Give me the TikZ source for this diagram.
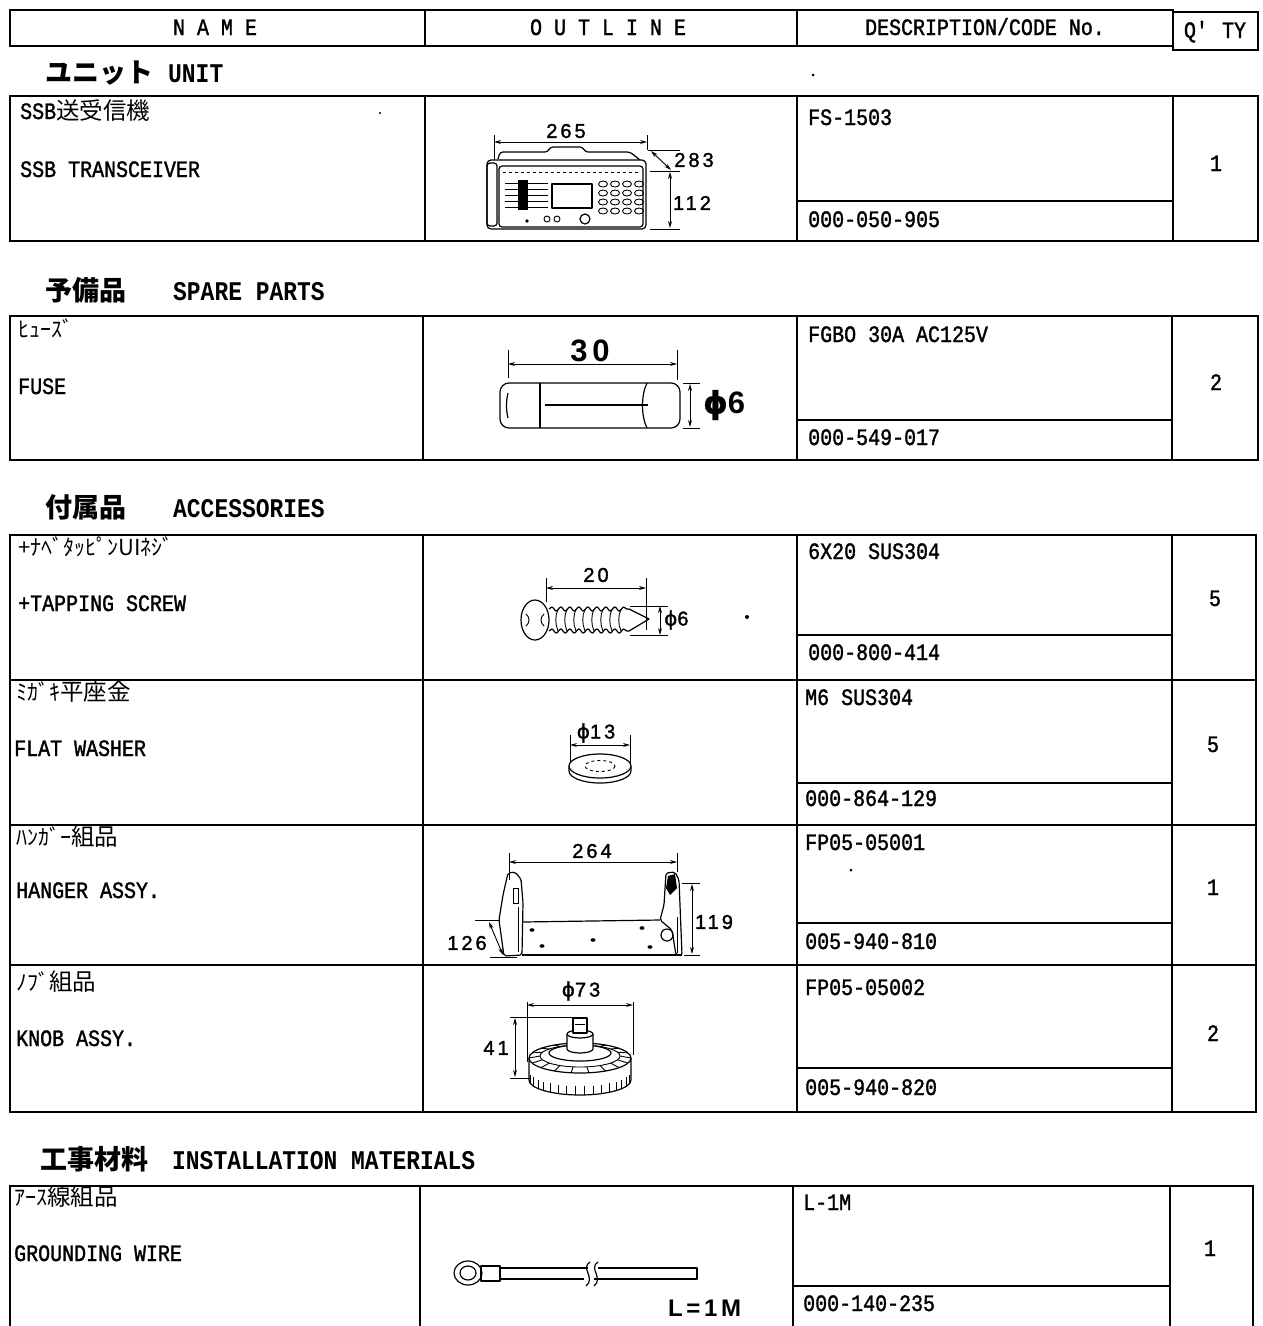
\documentclass[tikz,border=0pt]{standalone}
\usepackage{fontspec}
\usetikzlibrary{arrows.meta,decorations.pathmorphing}
\setmainfont{Liberation Mono}[FakeStretch=0.85, UprightFeatures={FakeBold=1.4}]
\newfontfamily\jp{Noto Sans CJK JP}
\newfontfamily\djv{DejaVu Sans}[FakeBold=1.2]
\newfontfamily\dimf{Liberation Sans}[LetterSpace=15, UprightFeatures={FakeBold=1.5}]
\newcommand\rowfnt{\fontsize{23.5}{26}\selectfont}
\newcommand\kanafnt{\jp\fontsize{22}{26}\selectfont}
\newcommand\titfnt{\fontsize{27}{30}\selectfont\bfseries}
\newcommand\dimfnt{\dimf\fontsize{20}{24}\selectfont}
\newcommand\bigdimfnt{\dimf\fontsize{31}{34}\selectfont\bfseries}
\begin{document}
\begin{tikzpicture}[x=1pt,y=-1pt,
  tbl/.style={line width=1.4pt},
  lbl/.style={anchor=base west, inner sep=0pt, font=\rowfnt},
  qty/.style={anchor=base, inner sep=0pt, font=\rowfnt},
  hdr/.style={anchor=base, inner sep=0pt, font=\rowfnt},
  sect/.style={anchor=base west, inner sep=0pt, font=\titfnt},
  part/.style={line width=1.2pt, line join=round},
  ext/.style={line width=0.9pt},
  speck/.style={fill=black},
  dimarr/.style={line width=0.9pt, {Stealth[length=7pt,width=4pt]}-{Stealth[length=7pt,width=4pt]}},
  dimt/.style={inner sep=0pt, font=\dimfnt},
  bigdimt/.style={inner sep=0pt, font=\bigdimfnt}]
\useasboundingbox (0,0) rectangle (1263,1326);
\fill[white] (0,0) rectangle (1263,1326);

% ---------------- header ----------------
\draw[tbl] (10,10) rectangle (1173,46);
\draw[tbl] (425,10) -- (425,46);
\draw[tbl] (797,10) -- (797,46);
\draw[tbl] (1173,12) rectangle (1258,50);
\node[hdr] (hname) at (215,35) {N A M E};
\node[hdr] (hout) at (608,35) {O U T L I N E};
\node[hdr] (hdesc) at (985,35) {DESCRIPTION/CODE No.};
\node[hdr] (hqty) at (1215,38) {Q\textquotesingle\ TY};

% ---------------- section titles ----------------
\node[sect] (s1j) at (45,82) {\jp\bfseries ユニット};
\node[sect] (s1e) at (168,82) {UNIT};
\node[sect] (s2j) at (45,300) {\jp\bfseries 予備品};
\node[sect] (s2e) at (173,300) {SPARE PARTS};
\node[sect] (s3j) at (45,517) {\jp\bfseries 付属品};
\node[sect] (s3e) at (173,517) {ACCESSORIES};
\node[sect] (s4j) at (40,1169) {\jp\bfseries 工事材料};
\node[sect] (s4e) at (172,1169) {INSTALLATION MATERIALS};
\fill[speck] (813,75) circle (1.5);

% ---------------- unit row ----------------
\draw[tbl] (10,96) rectangle (1258,241);
\draw[tbl] (425,96) -- (425,241);
\draw[tbl] (797,96) -- (797,241);
\draw[tbl] (1173,96) -- (1173,241);
\draw[tbl] (797,201) -- (1173,201);
\node[lbl] (n1a) at (20,119) {SSB{\jp 送受信機}};
\node[lbl] (n1b) at (20,177) {SSB TRANSCEIVER};
\node[lbl] (d1a) at (808,125) {FS-1503};
\node[lbl] (d1b) at (808,227) {000-050-905};
\node[qty] (q1) at (1216,171) {1};
\fill[speck] (380,113) circle (1.2);

% transceiver drawing
\draw[ext] (494,135) -- (494,160);
\draw[ext] (647,135) -- (647,150);
\draw[dimarr] (494,142) -- (647,142);
\node[dimt] (t265) at (566,131) {265};
\draw[part,rounded corners=4] (487,160) rectangle (646,229);
\draw[part,rounded corners=3] (498,159) -- (500,152) -- (548,152) -- (550,147) -- (583,147) -- (585,152) -- (630,152) -- (640,160);
\draw[part,rounded corners=3] (487,163) rectangle (497,226);
\draw[part,rounded corners=3] (499,166) rectangle (643,227);
\draw[ext,dashed] (503,172) -- (640,172);
\draw[part] (552,184) rectangle (592,208);
\foreach \yy in {183,189,195,201,207} \draw[ext] (505,\yy) -- (548,\yy);
\fill (518,180) rectangle (528,210);
\foreach \xx in {603,615,627,639} \foreach \yy in {184,193,202,211} \draw[ext] (\xx,\yy) ellipse (4.5 and 3);
\fill (527,221) circle (1.8);
\draw[ext] (547,219) circle (3);
\draw[ext] (557,219) circle (3);
\draw[part] (585,219) circle (5);
\draw[ext] (648,150) -- (680,150);
\draw[ext] (650,171) -- (680,171);
\draw[dimarr] (651,151) -- (671,170);
\node[dimt] (t283) at (694,160) {283};
\draw[dimarr] (670,172) -- (670,228);
\draw[ext] (650,229) -- (680,229);
\node[dimt] (t112) at (692,203) {112};

% ---------------- fuse row ----------------
\draw[tbl] (10,316) rectangle (1258,460);
\draw[tbl] (423,316) -- (423,460);
\draw[tbl] (797,316) -- (797,460);
\draw[tbl] (1172,316) -- (1172,460);
\draw[tbl] (797,420) -- (1172,420);
\node[lbl] (n2a) at (18,337) {\kanafnt ﾋｭｰｽﾞ};
\node[lbl] (n2b) at (18,394) {FUSE};
\node[lbl] (d2a) at (808,342) {FGBO 30A AC125V};
\node[lbl] (d2b) at (808,445) {000-549-017};
\node[qty] (q2) at (1216,390) {2};

\draw[ext] (508,350) -- (508,378);
\draw[ext] (677,350) -- (677,380);
\draw[dimarr] (508,364) -- (677,364);
\node[bigdimt] (t30) at (590,351) {30};
\draw[part,rounded corners=9] (500,383) rectangle (680,428);
\draw[part] (540,383) -- (540,428);
\draw[part] (647,383) .. controls (641,395) and (641,416) .. (647,428);
\draw[part] (545,405) -- (648,405);
\draw[part] (508,393) .. controls (506,401) and (506,410) .. (508,418);
\draw[ext] (683,383) -- (700,383);
\draw[ext] (683,428) -- (700,428);
\draw[dimarr] (690,384) -- (690,427);
\node[bigdimt, anchor=west] (tf6) at (703,405) {{\djv ϕ}6};

% ---------------- accessories ----------------
\draw[tbl] (10,535) rectangle (1256,1112);
\draw[tbl] (423,535) -- (423,1112);
\draw[tbl] (797,535) -- (797,1112);
\draw[tbl] (1172,535) -- (1172,1112);
\foreach \yy in {680,825,965} \draw[tbl] (10,\yy) -- (1256,\yy);
\foreach \yy in {635,783,923,1068} \draw[tbl] (797,\yy) -- (1172,\yy);

\node[lbl] (n3a) at (18,555) {\kanafnt +ﾅﾍﾞﾀｯﾋﾟﾝUIﾈｼﾞ};
\node[lbl] (n3b) at (18,611) {+TAPPING SCREW};
\node[lbl] (d3a) at (808,559) {6X20 SUS304};
\node[lbl] (d3b) at (808,660) {000-800-414};
\node[qty] (q3) at (1215,606) {5};

\node[lbl] (n4a) at (16,700) {{\kanafnt ﾐｶﾞｷ}{\jp 平座金}};
\node[lbl] (n4b) at (14,756) {FLAT WASHER};
\node[lbl] (d4a) at (805,705) {M6 SUS304};
\node[lbl] (d4b) at (805,806) {000-864-129};
\node[qty] (q4) at (1213,752) {5};

\node[lbl] (n5a) at (16,845) {{\kanafnt ﾊﾝｶﾞｰ}{\jp 組品}};
\node[lbl] (n5b) at (16,898) {HANGER ASSY.};
\node[lbl] (d5a) at (805,850) {FP05-05001};
\node[lbl] (d5b) at (805,949) {005-940-810};
\node[qty] (q5) at (1213,895) {1};
\fill[speck] (851,870) circle (1.5);

\node[lbl] (n6a) at (16,990) {{\kanafnt ﾉﾌﾞ}{\jp 組品}};
\node[lbl] (n6b) at (16,1046) {KNOB ASSY.};
\node[lbl] (d6a) at (805,995) {FP05-05002};
\node[lbl] (d6b) at (805,1095) {005-940-820};
\node[qty] (q6) at (1213,1041) {2};

% screw
\draw[ext] (546,578) -- (546,602);
\draw[ext] (646,578) -- (646,630);
\draw[dimarr] (546,588) -- (646,588);
\node[dimt] (t20) at (596,575) {20};
\draw[part, decorate, decoration={snake, amplitude=2pt, segment length=9pt}] (549,609) -- (629,609);
\draw[part, decorate, decoration={snake, amplitude=2pt, segment length=9pt}] (549,631) -- (629,631);
\foreach \xx in {558,567,...,626} \draw[ext] (\xx,609) .. controls (\xx-3,616) and (\xx-3,624) .. (\xx,631);
\draw[part] (629,609) -- (649,619) -- (629,631);
\draw[part, fill=white] (535,620) ellipse (14 and 20);
\draw[ext] (526,614) .. controls (530,617) and (530,623) .. (526,626);
\draw[ext] (544,614) .. controls (540,617) and (540,623) .. (544,626);
\draw[ext] (630,606) -- (668,606);
\draw[ext] (630,635) -- (668,635);
\draw[dimarr] (660,606) -- (660,635);
\node[dimt, anchor=west] (ts6) at (664,620) {{\djv ϕ}6};
\fill[speck] (747,617) circle (2);

% washer
\draw[ext] (570,735) -- (570,768);
\draw[ext] (630,735) -- (630,768);
\draw[dimarr] (570,745) -- (630,745);
\node[dimt] (t13) at (596,733) {{\djv ϕ}13};
\draw[part] (569,766) -- (569,771) arc (180:0:31 and 12) -- (631,766);
\draw[part, fill=white] (600,766) ellipse (31 and 12);
\draw[ext, dashed] (600,766) ellipse (15 and 5.5);

% hanger
\draw[ext] (509,853) -- (509,880);
\draw[ext] (677,853) -- (677,872);
\draw[dimarr] (509,862) -- (677,862);
\node[dimt] (t264) at (592,851) {264};
\draw[part, rounded corners=2] (508,873) -- (515,872) -- (521,879) -- (523,903) -- (522,955) -- (504,956) -- (499,920) -- (503,895) -- cycle;
\draw[ext] (513,888) rectangle (518,903);
\draw[ext] (518,907) -- (518,952);
\draw[part] (523,922) -- (660,920);
\draw[part] (522,955) -- (682,955);
\draw[part, rounded corners=2] (666,873) -- (675,872) -- (679,880) -- (682,955) -- (676,955) -- (672,930) -- (660,920) -- (664,905) -- cycle;
\fill (668,876) -- (675,874) -- (677,888) -- (670,895) -- (666,888) -- cycle;
\draw[ext] (677,917) -- (677,953);
\draw[part] (667,935) circle (6);
\foreach \p in {(532,930),(542,946),(593,940),(642,928),(650,947)} \fill \p ellipse (2.5 and 1.8);
\draw[ext] (682,883) -- (700,883);
\draw[ext] (684,955) -- (700,955);
\draw[dimarr] (692,884) -- (692,954);
\node[dimt] (t119) at (714,922) {119};
\draw[ext] (475,920) -- (500,920);
\draw[ext] (490,957) -- (517,957);
\draw[dimarr] (489,922) -- (503,955);
\node[dimt] (t126) at (467,943) {126};

% knob
\draw[ext] (527,1002) -- (527,1062);
\draw[ext] (633,1002) -- (633,1055);
\draw[dimarr] (527,1005) -- (633,1005);
\node[dimt] (t73) at (581,991) {{\djv ϕ}73};
\draw[part] (529,1058) -- (529,1080) arc (180:0:51 and 15) -- (631,1058);
\foreach \a in {15,25,...,165} \draw[ext] ({580+51*cos(\a)},{1080+15*sin(\a)}) -- ++(0,-9);
\draw[part, fill=white] (580,1058) ellipse (51 and 15);
\draw[ext] (580,1056) ellipse (40 and 11);
\foreach \a in {0,20,...,340} \draw[ext] ({580+40*cos(\a)},{1056+11*sin(\a)}) -- ({580+51*cos(\a)},{1058+15*sin(\a)});
\draw[part, fill=white] (580,1053) ellipse (31 and 8);
\draw[part, fill=white] (567,1034) -- (567,1049) arc (180:0:13 and 4) -- (593,1034);
\draw[part, fill=white] (580,1034) ellipse (13 and 4);
\draw[part, fill=white] (573,1018) rectangle (587,1033);
\draw[ext] (575,1024) -- (585,1024);
\draw[ext] (510,1017) -- (573,1017);
\draw[ext] (510,1078) -- (530,1078);
\draw[dimarr] (515,1018) -- (515,1077);
\node[dimt] (t41) at (496,1048) {41};

% ---------------- installation ----------------
\draw[tbl] (10,1330) -- (10,1186) -- (1253,1186) -- (1253,1330);
\draw[tbl] (420,1186) -- (420,1330);
\draw[tbl] (793,1186) -- (793,1330);
\draw[tbl] (1170,1186) -- (1170,1330);
\draw[tbl] (793,1286) -- (1170,1286);
\node[lbl] (n7a) at (14,1205) {{\kanafnt ｱｰｽ}{\jp 線組品}};
\node[lbl] (n7b) at (14,1261) {GROUNDING WIRE};
\node[lbl] (d7a) at (803,1210) {L-1M};
\node[lbl] (d7b) at (803,1311) {000-140-235};
\node[qty] (q7) at (1210,1256) {1};

% grounding wire
\draw[part] (468,1273) ellipse (14 and 12);
\draw[part] (468,1273) ellipse (8 and 7);
\draw[part] (481,1266) rectangle (500,1281);
\draw[part] (500,1268) -- (588,1268);
\draw[part] (500,1279) -- (584,1279);
\draw[part] (598,1268) -- (697,1268) -- (697,1279) -- (594,1279);
\draw[part] (590,1262) .. controls (580,1268) and (596,1278) .. (586,1286);
\draw[part] (598,1262) .. controls (588,1268) and (604,1278) .. (594,1286);
\node[anchor=base west, inner sep=0pt, font={\dimf\fontsize{24}{26}\selectfont\bfseries}] (tl) at (668,1316) {L=1M};
\end{tikzpicture}
\end{document}
